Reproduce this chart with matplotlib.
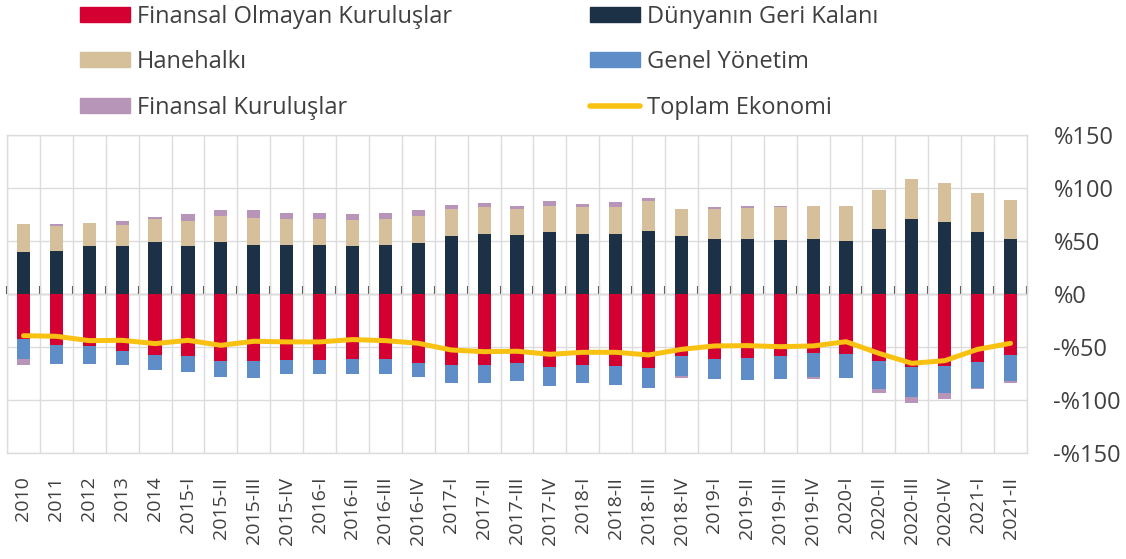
import matplotlib
matplotlib.use("Agg")
import numpy as np
import matplotlib.pyplot as plt
from matplotlib.patches import Patch
from matplotlib.lines import Line2D

plt.rcParams['font.family'] = ['Open Sans', 'DejaVu Sans']

donemler = ["2010", "2011", "2012", "2013", "2014",
            "2015-I", "2015-II", "2015-III", "2015-IV",
            "2016-I", "2016-II", "2016-III", "2016-IV",
            "2017-I", "2017-II", "2017-III", "2017-IV",
            "2018-I", "2018-II", "2018-III", "2018-IV",
            "2019-I", "2019-II", "2019-III", "2019-IV",
            "2020-I", "2020-II", "2020-III", "2020-IV",
            "2021-I", "2021-II"]

finansal_olmayan = [-42.5, -48.1, -49.0, -53.8, -57.5, -58.2, -63.2, -63.2, -62.3, -62.3,
                    -61.3, -61.3, -65.1, -66.7, -67.0, -65.1, -68.9, -66.7, -67.9, -69.8,
                    -58.5, -61.6, -60.4, -58.5, -56.0, -56.6, -63.2, -68.9, -67.9, -64.2, -57.5]
genel_yonetim = [-18.8, -17.9, -16.7, -13.5, -14.5, -15.7, -15.1, -15.7, -12.9, -12.9,
                 -13.9, -14.5, -13.5, -16.9, -17.3, -17.3, -17.6, -17.6, -17.6, -18.6,
                 -19.2, -18.9, -20.7, -21.4, -22.6, -22.3, -26.4, -28.0, -25.8, -24.2, -24.3]
dunya = [39.3, 40.6, 45.3, 45.3, 49.1, 45.3, 49.1, 45.9, 46.5, 46.5,
         45.3, 45.9, 47.8, 55.0, 56.3, 55.7, 58.5, 56.6, 56.6, 59.1,
         54.4, 51.6, 51.6, 51.0, 51.6, 49.7, 61.3, 71.0, 67.9, 58.8, 52.2]
hanehalki = [26.4, 23.6, 21.7, 19.8, 21.7, 23.6, 24.2, 25.8, 23.9, 24.3,
             24.8, 24.9, 26.1, 25.2, 25.8, 24.5, 24.5, 25.5, 25.8, 28.6,
             26.1, 28.6, 29.8, 31.1, 31.4, 33.0, 36.8, 37.5, 36.5, 36.5, 36.8]
finansal = [-5.4, 1.8, -0.5, 3.5, 1.9, 6.3, 5.7, 7.5, 6.0, 5.6,
            5.4, 5.6, 5.3, 3.8, 3.4, 2.8, 4.7, 3.1, 4.4, 2.5,
            -1.9, 2.2, 1.6, 0.5, -1.9, 0.6, -3.5, -5.9, -5.7, -1.5, -2.2]
toplam = [-39.3, -39.9, -44.0, -43.7, -46.8, -43.7, -48.4, -44.6, -45.2, -45.2,
          -43.0, -44.0, -46.5, -52.8, -54.4, -54.0, -56.9, -55.0, -55.0, -57.5,
          -52.2, -49.0, -48.7, -49.7, -49.0, -45.0, -56.0, -65.4, -62.9, -52.2, -46.5]

C_RED = "#D50032"
C_NAVY = "#1C3146"
C_TAN = "#D6BF9B"
C_BLUE = "#5F8DC8"
C_PURPLE = "#B795B8"
C_YELLOW = "#F9C212"
C_TEXT = "#404040"
C_GRID = "#DCDCDC"

x = np.arange(len(donemler))
w = 0.4
fok = np.array(finansal_olmayan)
gy = np.array(genel_yonetim)
dn = np.array(dunya)
hh = np.array(hanehalki)
fk = np.array(finansal)

fig = plt.figure(figsize=(11.26, 5.59), dpi=100)
ax = fig.add_axes([7 / 1126, 1 - 453 / 559, 1020 / 1126, 318 / 559])

ax.bar(x, dn, w, color=C_NAVY, zorder=3)
ax.bar(x, hh, w, bottom=dn, color=C_TAN, zorder=3)
ax.bar(x, fok, w, color=C_RED, zorder=3)
ax.bar(x, gy, w, bottom=fok, color=C_BLUE, zorder=3)
fk_bottom = np.where(fk >= 0, dn + hh, fok + gy)
ax.bar(x, fk, w, bottom=fk_bottom, color=C_PURPLE, zorder=3)
ax.plot(x, toplam, color=C_YELLOW, lw=3.6, solid_capstyle='round', zorder=4)

ax.set_xlim(-0.5, len(donemler) - 0.5)
ax.set_ylim(-150, 150)
yt = np.arange(-150, 151, 50)
ax.set_yticks(yt)
ax.set_yticklabels([("-%" if v < 0 else "%") + str(abs(v)) for v in yt])
ax.yaxis.tick_right()
ax.tick_params(axis='y', length=0, pad=19, labelsize=17, labelcolor=C_TEXT)

ax.set_xticks(x)
ax.set_xticklabels(donemler, rotation=90)
ax.tick_params(axis='x', length=0, pad=17, labelsize=14, labelcolor=C_TEXT)

ax.set_xticks(np.arange(-0.5, len(donemler)), minor=True)
ax.tick_params(axis='x', which='minor', length=0)
ax.grid(True, which='minor', axis='x', color=C_GRID, lw=1, zorder=0)
ax.grid(True, which='major', axis='y', color=C_GRID, lw=1, zorder=0)
for s in ax.spines.values():
    s.set_color(C_GRID)
    s.set_linewidth(1)

# zero line with small tick marks at category boundaries
sec = ax.secondary_xaxis(0.5)
sec.set_xticks(np.arange(-0.5, len(donemler)))
sec.set_xticklabels([])
sec.tick_params(length=6, width=1.5, color="#444444", direction='out')
sec.spines['bottom'].set_color("#444444")
sec.spines['bottom'].set_linewidth(2)
sec.spines['bottom'].set_zorder(5)

handles = [Patch(color=C_RED, label="Finansal Olmayan Kuruluşlar"),
           Patch(color=C_TAN, label="Hanehalkı"),
           Patch(color=C_PURPLE, label="Finansal Kuruluşlar"),
           Patch(color=C_NAVY, label="Dünyanın Geri Kalanı"),
           Patch(color=C_BLUE, label="Genel Yönetim"),
           Line2D([0], [0], color=C_YELLOW, lw=4, solid_capstyle='round', label="Toplam Ekonomi")]
leg = fig.legend(handles=handles, ncol=2, loc='upper left',
                 bbox_to_anchor=(80 / 1126, 1 - 5 / 559), frameon=False,
                 fontsize=17, handlelength=2.1, handleheight=0.6, handletextpad=0.3,
                 columnspacing=5.85, labelspacing=0.9, borderpad=0, borderaxespad=0)
for t in leg.get_texts():
    t.set_color(C_TEXT)

fig.savefig("out.png", dpi=100)
